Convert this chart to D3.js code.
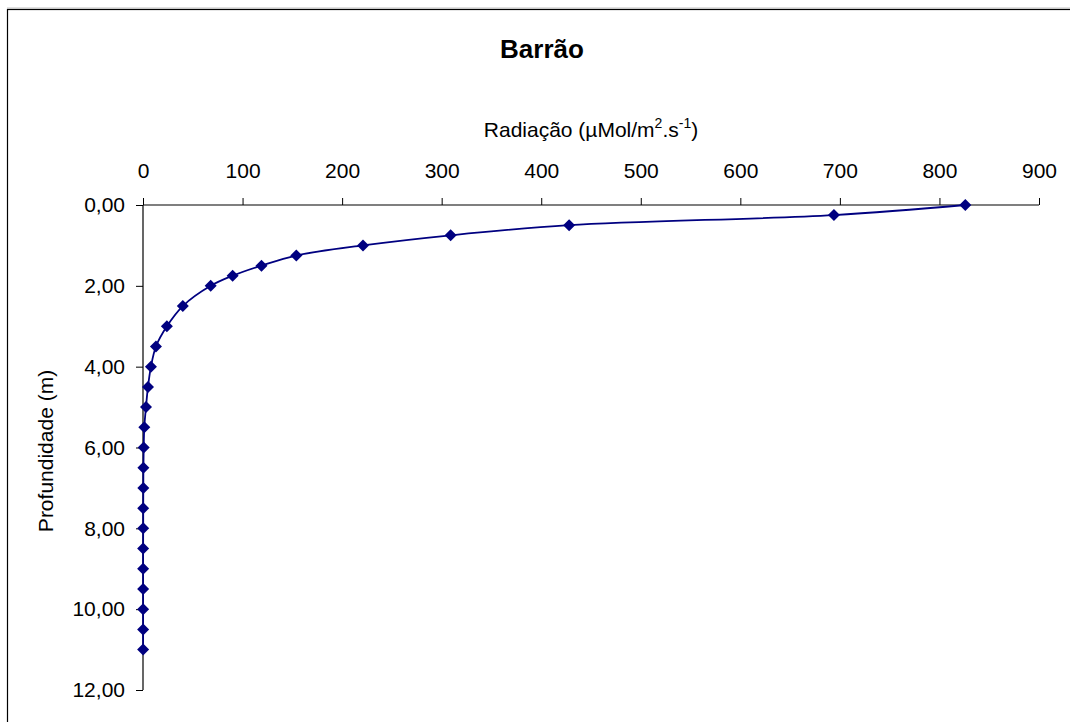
<!DOCTYPE html>
<html>
<head>
<meta charset="utf-8">
<script src="https://cdn.jsdelivr.net/npm/d3@7"></script>
<style>
  html, body { margin: 0; padding: 0; background: #fff; }
  svg { display: block; font-family: "Liberation Sans", Arial, sans-serif; }
</style>
</head>
<body>
<svg id="chart" width="1070" height="722"></svg>
<script>
// ---- data ----
const depths = [0, 0.25, 0.5, 0.75, 1, 1.25, 1.5, 1.75, 2, 2.5, 3, 3.5, 4, 4.5, 5, 5.5, 6, 6.5, 7, 7.5, 8, 8.5, 9, 9.5, 10, 10.5, 11];
const radiation = [826, 694, 428, 309, 221, 154, 119, 90, 68, 40, 24, 13, 8, 5, 3, 1.3, 0.7, 0.4, 0.3, 0.2, 0.2, 0.1, 0.1, 0.1, 0.1, 0.1, 0.1];
const xTicks = [0, 100, 200, 300, 400, 500, 600, 700, 800, 900];
const yTicks = [0, 2, 4, 6, 8, 10, 12];
const chartTitle = "Barrão";
const yTitle = "Profundidade (m)";

const svg = d3.select("#chart");
const W = 1070, H = 722;
const m = { left: 143, right: 1039, top: 205, bottom: 690 };

const x = d3.scaleLinear().domain([0, 900]).range([m.left, m.right]);
const y = d3.scaleLinear().domain([0, 12]).range([m.top, m.bottom]);

// frame
svg.append("line").attr("x1", 7).attr("x2", W).attr("y1", 8).attr("y2", 8)
  .attr("stroke", "#c0c0c0").attr("stroke-width", 1);
svg.append("rect").attr("x", 7.5).attr("y", 9.5).attr("width", W + 10).attr("height", H + 10)
  .attr("fill", "none").attr("stroke", "#000").attr("stroke-width", 1.2);

// title
svg.append("text").attr("x", 542).attr("y", 58).attr("text-anchor", "middle")
  .attr("font-size", 26).attr("font-weight", "bold").text(chartTitle);

// x axis title with superscripts
const xt = svg.append("text").attr("x", 591).attr("y", 137).attr("text-anchor", "middle")
  .attr("font-size", 21);
xt.append("tspan").text("Radiação (µMol/m");
xt.append("tspan").attr("dy", -9).attr("font-size", 14).text("2");
xt.append("tspan").attr("dy", 9).text(".s");
xt.append("tspan").attr("dy", -9).attr("font-size", 14).text("-1");
xt.append("tspan").attr("dy", 9).text(")");

// y axis title
svg.append("text").attr("transform", "translate(53,451) rotate(-90)")
  .attr("text-anchor", "middle").attr("font-size", 21).text(yTitle);

// x axis (top)
const xAxis = d3.axisTop(x).tickValues(xTicks).tickSize(7).tickPadding(20)
  .tickFormat(d3.format("d"));
const gx = svg.append("g").attr("transform", `translate(0,${m.top})`).call(xAxis);
gx.select(".domain").attr("stroke", "#000").attr("stroke-width", 1.2)
  .attr("d", `M${m.left},0H${m.right}`);
gx.selectAll(".tick line").attr("stroke", "#000");
gx.selectAll(".tick text").attr("font-size", 21).attr("fill", "#000")
  .attr("font-family", "Liberation Sans, Arial, sans-serif");

// y axis (left)
const fmt = d => d3.format(".2f")(d).replace(".", ",");
const yAxis = d3.axisLeft(y).tickValues(yTicks).tickSize(7).tickPadding(11).tickFormat(fmt);
const gy = svg.append("g").attr("transform", `translate(${m.left},0)`).call(yAxis);
gy.select(".domain").attr("stroke", "#000").attr("stroke-width", 1.2)
  .attr("d", `M0,${m.top}V${m.bottom}`);
gy.selectAll(".tick line").attr("stroke", "#000");
gy.selectAll(".tick text").attr("font-size", 21).attr("fill", "#000")
  .attr("font-family", "Liberation Sans, Arial, sans-serif");

// data line
const pts = depths.map((d, i) => ({ depth: d, rad: radiation[i] }));
const line = d3.line().x(d => x(d.rad)).y(d => y(d.depth)).curve(d3.curveCatmullRom.alpha(0.5));
svg.append("path").datum(pts).attr("d", line)
  .attr("fill", "none").attr("stroke", "#000080").attr("stroke-width", 1.8);

// diamond markers
const squareDiamond = {
  draw(ctx, size) {
    const r = Math.sqrt(size / 2);
    ctx.moveTo(0, -r); ctx.lineTo(r, 0); ctx.lineTo(0, r); ctx.lineTo(-r, 0); ctx.closePath();
  }
};
svg.append("g").selectAll("path").data(pts).join("path")
  .attr("transform", d => `translate(${x(d.rad)},${y(d.depth)})`)
  .attr("d", d3.symbol().type(squareDiamond).size(72))
  .attr("fill", "#000080");
</script>
</body>
</html>
